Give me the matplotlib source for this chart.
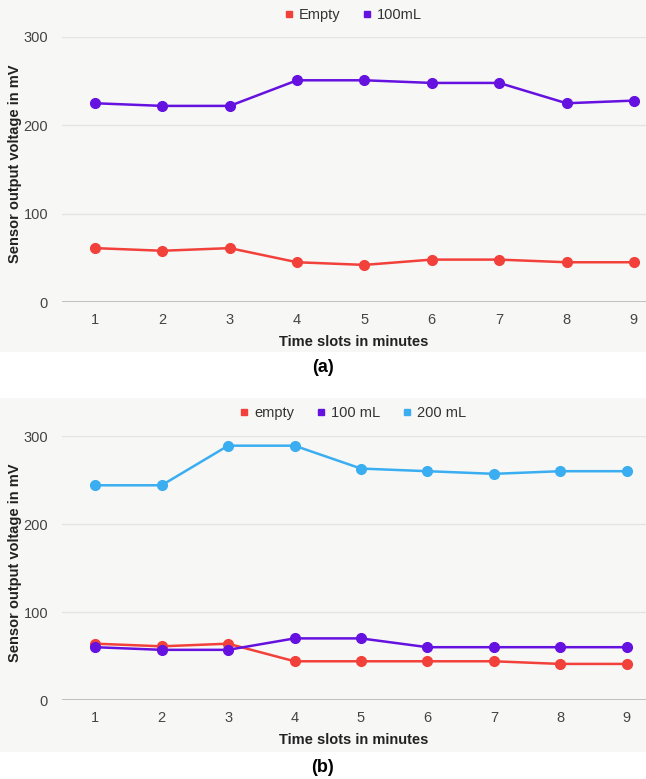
import matplotlib
matplotlib.use("Agg")
import matplotlib.pyplot as plt
from matplotlib.lines import Line2D
from matplotlib.patches import Rectangle

plt.rcParams['font.family'] = ['Liberation Sans', 'DejaVu Sans']

# data
slots = [1, 2, 3, 4, 5, 6, 7, 8, 9]
a_empty = [61, 58, 61, 45, 42, 48, 48, 45, 45]
a_100 = [225, 222, 222, 251, 251, 248, 248, 225, 228]
b_empty = [64, 61, 64, 44, 44, 44, 44, 41, 41]
b_100 = [60, 57, 57, 70, 70, 60, 60, 60, 60]
b_200 = [244, 244, 289, 289, 263, 260, 257, 260, 260]
yticks = [0, 100, 200, 300]

RED = '#f2403a'
PURPLE = '#6511e0'
BLUE = '#3aaef0'
BG = '#f7f7f6'

W, H = 646, 779
fig = plt.figure(figsize=(W / 100, H / 100), dpi=100)


def fy(y):
    return 1 - y / H


# gray panel backgrounds
fig.patches.append(Rectangle((0, fy(352)), 1, fy(0) - fy(352), transform=fig.transFigure,
                             facecolor=BG, edgecolor='none', zorder=-1))
fig.patches.append(Rectangle((0, fy(752)), 1, fy(398) - fy(752), transform=fig.transFigure,
                             facecolor=BG, edgecolor='none', zorder=-1))


def panel(top, bottom, series, labels, colors, xlim, tag, tag_y, leg_y):
    ax = fig.add_axes([62 / W, fy(bottom), 584 / W, (bottom - top) / H])
    ax.set_facecolor('none')
    for vals, lab, c in zip(series, labels, colors):
        ax.plot(slots, vals, color=c, lw=1.8, marker='o', ms=7, label=lab,
                clip_on=False, zorder=3)
    ax.set_ylim(0, 300)
    ax.set_xlim(*xlim)
    ax.set_yticks(yticks)
    ax.set_xticks(slots)
    for s in ax.spines.values():
        s.set_visible(False)
    for t in yticks[1:]:
        ax.axhline(t, color='#e3e3e3', lw=1, zorder=1)
    ax.axhline(0, color='#b5b5b5', lw=1.2, zorder=1)
    ax.tick_params(length=0, labelsize=10.5, labelcolor='#444444')
    ax.tick_params(axis='y', pad=10)
    ax.tick_params(axis='x', pad=8)
    ax.set_xlabel('Time slots in minutes', fontsize=10.5, fontweight='bold',
                  color='#222222', labelpad=6)
    ax.set_ylabel('Sensor output voltage in mV', fontsize=10.5, fontweight='bold',
                  color='#222222')
    ax.yaxis.set_label_coords(-40 / 584, 0.52)
    handles = [Line2D([], [], ls='none', marker='s', ms=5, color=c) for c in colors]
    ax.legend(handles, labels, loc='center', bbox_to_anchor=(0.497, leg_y), ncol=len(labels),
              frameon=False, fontsize=10.5, handletextpad=0.3, columnspacing=1.4,
              labelcolor='#333333', handlelength=0.8)
    fig.text(0.5, fy(tag_y), tag, ha='center', va='center', fontsize=13,
             fontweight='bold')
    return ax


panel(37, 302, [a_empty, a_100], ['Empty', '100mL'], [RED, PURPLE],
      (0.51, 9.18), '(a)', 367, (302 - 15) / 265)
panel(436, 700, [b_empty, b_100, b_200], ['empty', '100 mL', '200 mL'],
      [RED, PURPLE, BLUE], (0.50, 9.29), '(b)', 768, (700 - 413) / 264)

fig.savefig('out.png', dpi=100)
